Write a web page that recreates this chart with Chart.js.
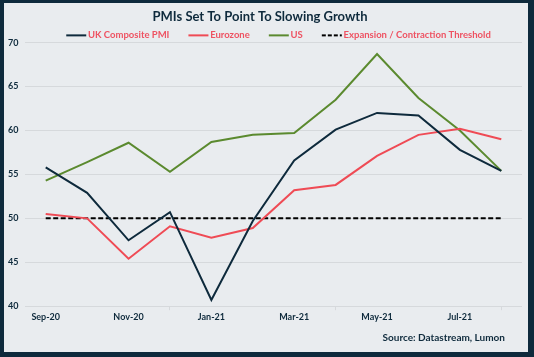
<!DOCTYPE html>
<html>
<head>
<meta charset="utf-8">
<script src="https://cdn.jsdelivr.net/npm/chart.js@4.4.1/dist/chart.umd.min.js"></script>
<style>
  html, body { margin: 0; padding: 0; }
  body { width: 534px; height: 357px; background: #0e2a3c; position: relative; overflow: hidden; }
  #wrap { position: absolute; left: 4px; top: 3px; width: 524px; height: 349px; background: #e9ecef; }
  #c { position: absolute; left: 0; top: 0; }
  #src { position: absolute; right: 23px; top: 328px; font: bold 10px Lato, "DejaVu Sans", sans-serif; color: #0e2a3c; }
</style>
</head>
<body>
<div id="wrap">
  <canvas id="c" width="524" height="349"></canvas>
  <div id="src">Source: Datastream, Lumon</div>
</div>
<script>
const categories = ['Sep-20','Oct-20','Nov-20','Dec-20','Jan-21','Feb-21','Mar-21','Apr-21','May-21','Jun-21','Jul-21','Aug-21'];
const ukComposite = [55.8, 52.9, 47.5, 50.7, 40.7, 49.7, 56.6, 60.1, 62.0, 61.7, 57.8, 55.4];
const eurozone    = [50.5, 50.0, 45.4, 49.1, 47.8, 48.9, 53.2, 53.8, 57.1, 59.5, 60.2, 59.0];
const us          = [54.3, 56.4, 58.6, 55.3, 58.7, 59.5, 59.7, 63.5, 68.7, 63.7, 60.0, 55.4];
const threshold   = [50, 50, 50, 50, 50, 50, 50, 50, 50, 50, 50, 50];
const yTicks = [40, 45, 50, 55, 60, 65, 70];

const navy = '#0e2a3c', red = '#ef4b55', green = '#5b8a2f', legendText = '#ee5262';
const FONT = 'Lato, "DejaVu Sans", sans-serif';

// legend swatch: a short line drawn at the right of a small canvas, so it sits close to its label
function swatch(color, dash) {
  const cv = document.createElement('canvas');
  cv.width = 28; cv.height = 4;
  const g = cv.getContext('2d');
  g.strokeStyle = color; g.lineWidth = 2;
  if (dash) g.setLineDash(dash);
  g.beginPath(); g.moveTo(7, 2); g.lineTo(27, 2); g.stroke();
  return cv;
}

const shiftPlugin = {
  id: 'shiftBoxes',
  afterLayout(chart) {
    const l = chart.legend; l.left += 12; l.right += 12;
    const t = chart.titleBlock; if (t) { t.left -= 5; t.right -= 5; }
  }
};

new Chart(document.getElementById('c'), {
  type: 'line',
  data: {
    labels: categories,
    datasets: [
      { label: 'UK Composite PMI', data: ukComposite, borderColor: navy, backgroundColor: navy, borderWidth: 2, pointStyle: swatch(navy) },
      { label: 'Eurozone', data: eurozone, borderColor: red, backgroundColor: red, borderWidth: 2, pointStyle: swatch(red) },
      { label: 'US', data: us, borderColor: green, backgroundColor: green, borderWidth: 2, pointStyle: swatch(green) },
      { label: 'Expansion / Contraction Threshold', data: threshold, borderColor: '#000', backgroundColor: '#000', borderWidth: 2, borderDash: [5, 2.5], pointStyle: swatch('#000', [4, 2]) }
    ]
  },
  plugins: [shiftPlugin],
  options: {
    responsive: false,
    animation: false,
    elements: { point: { radius: 0, hoverRadius: 0 }, line: { tension: 0 } },
    layout: { padding: { left: 4, right: 6, top: 0, bottom: 29 } },
    plugins: {
      title: {
        display: true, text: 'PMIs Set To Point To Slowing Growth', color: navy,
        font: { family: FONT, size: 13, weight: 'bold' }, padding: { top: 6, bottom: -10 }
      },
      legend: {
        display: true,
        maxHeight: 28,
        labels: {
          color: legendText, font: { family: FONT, size: 9.5, weight: 'bold' },
          usePointStyle: true, pointStyleWidth: 20, padding: 16
        }
      },
      tooltip: { enabled: false }
    },
    scales: {
      x: {
        offset: true,
        grid: { offset: true, drawOnChartArea: false, drawTicks: true, tickLength: 4, color: '#d6d9dc' },
        border: { display: false },
        ticks: { color: navy, font: { family: FONT, size: 9, weight: 'bold' }, autoSkip: true, maxTicksLimit: 6, maxRotation: 0, padding: 1 }
      },
      y: {
        min: 40, max: 70,
        afterBuildTicks: (s) => { s.ticks = yTicks.map(v => ({ value: v })); },
        afterFit: (s) => { s.width = 17; },
        grid: { color: '#d6d9dc', drawTicks: false },
        border: { display: false },
        ticks: { color: navy, font: { family: FONT, size: 9, weight: 'bold' }, padding: 4, crossAlign: 'far' }
      }
    }
  }
});
</script>
</body>
</html>
